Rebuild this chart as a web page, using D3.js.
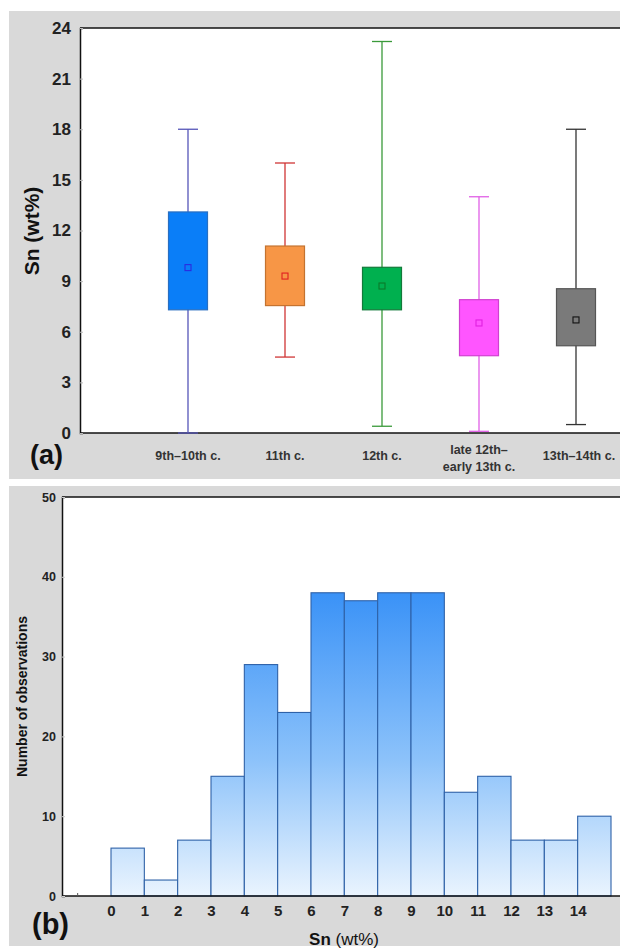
<!DOCTYPE html>
<html><head><meta charset="utf-8">
<script src="https://cdn.jsdelivr.net/npm/d3@7"></script>
<style>body{margin:0;background:#fff}svg{display:block;font-family:"Liberation Sans",Arial,sans-serif}</style>
</head><body>
<svg id="c" width="620" height="948"></svg>
<script>
// ---- Panel (a) data ----
const periods = ["9th–10th c.", "11th c.", "12th c.", "late 12th–\nearly 13th c.", "13th–14th c."];
const whiskerLow  = [0.0, 4.5, 0.4, 0.1, 0.5];
const boxLow      = [7.3, 7.55, 7.3, 4.58, 5.17];
const meanVal     = [9.8, 9.3, 8.71, 6.52, 6.7];
const boxHigh     = [13.1, 11.08, 9.82, 7.9, 8.55];
const whiskerHigh = [18.0, 16.0, 23.2, 14.0, 18.0];
const snTicks = [0, 3, 6, 9, 12, 15, 18, 21, 24];
const boxFill   = ["#0a7ef8", "#f79646", "#00b04f", "#ff55ff", "#7a7a7a"];
const boxStroke = ["#2a6fc0", "#c47330", "#137a3a", "#d040d0", "#555555"];
const whiskCol  = ["#5555b8", "#d03535", "#3a9a3a", "#e060e6", "#333333"];
const meanCol   = ["#2a2ae0", "#e02020", "#0a7a2a", "#e020e0", "#111111"];

// ---- Panel (b) data ----
const binStart = [0,1,2,3,4,5,6,7,8,9,10,11,12,13,14];
const counts   = [6,2,7,15,29,23,38,37,38,38,13,15,7,7,10];
const binTicks = [0,1,2,3,4,5,6,7,8,9,10,11,12,13,14];
const countTicks = [0,10,20,30,40,50];

const svg = d3.select("#c");
const grey = "#d9d9d9";

// ===== Panel (a) =====
svg.append("rect").attr("x",9).attr("y",11).attr("width",611).attr("height",468).attr("fill",grey);
const A = {l:80, t:28, r:620, b:433};
svg.append("rect").attr("x",A.l).attr("y",A.t).attr("width",A.r-A.l).attr("height",A.b-A.t).attr("fill","#fff");
const ya = d3.scaleLinear().domain([0,24]).range([A.b, A.t]);
const xa = d3.scalePoint().domain(periods).range([188, 576]);

const ga = svg.append("g");
ga.append("line").attr("x1",A.l).attr("x2",A.r).attr("y1",A.t).attr("y2",A.t).attr("stroke","#111").attr("stroke-width",1.5);
const yAxisA = svg.append("g").attr("transform",`translate(${A.l},0)`)
  .call(d3.axisLeft(ya).tickValues(snTicks).tickSize(-3).tickPadding(9));
yAxisA.select(".domain").attr("stroke","#111").attr("stroke-width",1.5);
yAxisA.selectAll(".tick line").attr("stroke","#bbb");
yAxisA.selectAll("text").attr("font-size",17).attr("font-weight","bold").attr("fill","#222").attr("font-family","Liberation Sans, Arial, sans-serif");
ga.append("line").attr("x1",A.l).attr("x2",A.r).attr("y1",A.b).attr("y2",A.b).attr("stroke","#111").attr("stroke-width",1.5);

const boxW = 39, capW = 20, mk = 6;
periods.forEach((p,i)=>{
  const cx = xa(p);
  const g = ga.append("g");
  g.append("line").attr("x1",cx).attr("x2",cx).attr("y1",ya(whiskerLow[i])).attr("y2",ya(whiskerHigh[i])).attr("stroke",whiskCol[i]).attr("stroke-width",1.3);
  [whiskerLow[i], whiskerHigh[i]].forEach(v=>{
    g.append("line").attr("x1",cx-capW/2).attr("x2",cx+capW/2).attr("y1",ya(v)).attr("y2",ya(v)).attr("stroke",whiskCol[i]).attr("stroke-width",1.3);
  });
  g.append("rect").attr("x",cx-boxW/2).attr("y",ya(boxHigh[i])).attr("width",boxW).attr("height",ya(boxLow[i])-ya(boxHigh[i]))
    .attr("fill",boxFill[i]).attr("stroke",boxStroke[i]).attr("stroke-width",1.2);
  g.append("rect").attr("x",cx-mk/2).attr("y",ya(meanVal[i])-mk/2).attr("width",mk).attr("height",mk)
    .attr("fill","none").attr("stroke",meanCol[i]).attr("stroke-width",1.1);
  const lines = p.split("\n");
  const t = svg.append("text").attr("text-anchor","middle").attr("font-size",12.5).attr("font-weight","bold").attr("fill","#333");
  if (lines.length === 1) {
    t.attr("x",cx + (i===4?3:0)).attr("y",460).text(lines[0]);
  } else {
    lines.forEach((ln,j)=> t.append("tspan").attr("x",cx).attr("y",454+j*17).text(ln));
  }
});
svg.append("text").attr("transform","translate(39,231) rotate(-90)").attr("text-anchor","middle")
  .attr("font-size",21).attr("font-weight","bold").attr("fill","#111").text("Sn (wt%)");
svg.append("text").attr("x",30).attr("y",464).attr("font-size",27).attr("font-weight","bold").attr("fill","#111").text("(a)");

// ===== Panel (b) =====
svg.append("rect").attr("x",9).attr("y",486).attr("width",611).attr("height",460).attr("fill",grey);
const B = {l:62, t:497, r:620, b:896};
svg.append("rect").attr("x",B.l).attr("y",B.t).attr("width",B.r-B.l).attr("height",B.b-B.t).attr("fill","#fff");
const yb = d3.scaleLinear().domain([0,50]).range([B.b, B.t]);
const xb = d3.scaleLinear().domain([0,15]).range([111, 611]);

const defs = svg.append("defs");
const grad = defs.append("linearGradient").attr("id","hg").attr("gradientUnits","userSpaceOnUse")
  .attr("x1",0).attr("x2",0).attr("y1",yb(38)).attr("y2",yb(0));
grad.append("stop").attr("offset","0%").attr("stop-color","#3a92f7");
grad.append("stop").attr("offset","55%").attr("stop-color","#8cc2fa");
grad.append("stop").attr("offset","100%").attr("stop-color","#eaf4fe");

const gb = svg.append("g");
gb.append("line").attr("x1",B.l).attr("x2",B.r).attr("y1",B.t).attr("y2",B.t).attr("stroke","#111").attr("stroke-width",1.5);
gb.selectAll("rect.bar").data(binStart).join("rect").attr("class","bar")
  .attr("x",d=>xb(d)).attr("width",d=>xb(d+1)-xb(d))
  .attr("y",(d,i)=>yb(counts[i])).attr("height",(d,i)=>yb(0)-yb(counts[i]))
  .attr("fill","url(#hg)").attr("stroke","#2f62a8").attr("stroke-width",1.1);

const yAxisB = svg.append("g").attr("transform",`translate(${B.l},0)`)
  .call(d3.axisLeft(yb).tickValues(countTicks).tickSize(-3).tickPadding(6));
yAxisB.select(".domain").attr("stroke","#111").attr("stroke-width",1.5);
yAxisB.selectAll(".tick line").attr("stroke","#ccc");
yAxisB.selectAll("text").attr("font-size",12.5).attr("font-weight","bold").attr("fill","#222").attr("font-family","Liberation Sans, Arial, sans-serif");

const xAxisB = svg.append("g").attr("transform",`translate(0,${B.b})`)
  .call(d3.axisBottom(xb).tickValues(binTicks).tickSize(0).tickPadding(9));
xAxisB.select(".domain").remove();
xAxisB.selectAll("text").attr("font-size",15).attr("font-weight","bold").attr("fill","#222").attr("font-family","Liberation Sans, Arial, sans-serif");
gb.append("line").attr("x1",B.l).attr("x2",B.r).attr("y1",B.b).attr("y2",B.b).attr("stroke","#111").attr("stroke-width",1.5);
gb.append("line").attr("x1",xb(-1)).attr("x2",xb(-1)).attr("y1",B.b).attr("y2",B.b-3).attr("stroke","#555");

svg.append("text").attr("transform",`translate(27,${(B.t+B.b)/2}) rotate(-90)`).attr("text-anchor","middle")
  .attr("font-size",14).attr("font-weight","bold").attr("fill","#111").text("Number of observations");
const xl = svg.append("text").attr("x",344).attr("y",945).attr("text-anchor","middle").attr("font-size",17).attr("fill","#111");
xl.append("tspan").attr("font-weight","bold").text("Sn ");
xl.append("tspan").text("(wt%)");
svg.append("text").attr("x",32).attr("y",934).attr("font-size",29).attr("font-weight","bold").attr("fill","#111").text("(b)");
</script>
</body></html>
